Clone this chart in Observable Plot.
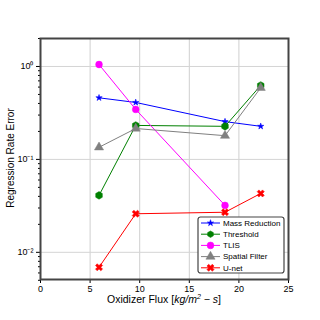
<!DOCTYPE html>
<html><head><meta charset="utf-8">
<script src="https://cdn.jsdelivr.net/npm/d3@7"></script>
<script src="https://cdn.jsdelivr.net/npm/@observablehq/plot@0.6"></script>
<style>
body{margin:0;background:#fff;font-family:"Liberation Sans",Arial,sans-serif}
#wrap{position:relative;width:320px;height:320px}
#legend{position:absolute;left:197px;top:216px}
</style>
</head><body><div id="wrap"></div>
<script>
const flux = [5.9, 9.6, 18.6, 22.2];
const massReduction = [0.46, 0.41, 0.255, 0.227];
const threshold = [0.041, 0.232, 0.227, 0.625];
const tlis = [1.05, 0.345, 0.032];
const spatialFilter = [0.135, 0.215, 0.18, 0.59];
const unet = [0.0069, 0.026, 0.027, 0.043];
const seriesNames = ["Mass Reduction", "Threshold", "TLIS", "Spatial Filter", "U-net"];
const seriesColors = ["#0000ff", "#008000", "#ff00ff", "#808080", "#ff0000"];
const xTicks = [0, 5, 10, 15, 20, 25];
const yTicks = [0.01, 0.1, 1];
const yTickLabels = ["10\u207B\u00B2", "10\u207B\u00B9", "10\u2070"];

const xSymbol = {
  draw(ctx, size) {
    const r = Math.sqrt(size / Math.PI);
    const e = r * 1.15, a = r * 0.38;
    const pts = [[a,e],[a,a],[e,a],[e,-a],[a,-a],[a,-e],[-a,-e],[-a,-a],[-e,-a],[-e,a],[-a,a],[-a,e]];
    const c = Math.SQRT1_2;
    pts.forEach(([x,y],i) => {
      const X = (x - y) * c, Y = (x + y) * c;
      i ? ctx.lineTo(X, Y) : ctx.moveTo(X, Y);
    });
    ctx.closePath();
  }
};
const seriesSymbols = ["star", "hexagon", "circle", "triangle", xSymbol];
const seriesR = [2.0, 3.3, 3.4, 3.4, 3.3];
const seriesValues = [massReduction, threshold, tlis, spatialFilter, unet];

const rows = [];
seriesValues.forEach((vals, s) => vals.forEach((v, i) => rows.push({series: seriesNames[s], s, x: flux[i], y: v})));

const marks = [
  Plot.gridX(xTicks.slice(1, -1), {stroke: "#cfcfcf", strokeOpacity: 1, strokeWidth: 1}),
  Plot.gridY(yTicks, {stroke: "#d4d4d4", strokeOpacity: 1, strokeWidth: 1}),
];
seriesNames.forEach((name, s) => {
  const d = rows.filter(r => r.s === s);
  marks.push(Plot.line(d, {x: "x", y: "y", stroke: seriesColors[s], strokeWidth: 1}));
  marks.push(Plot.dot(d, {x: "x", y: "y", fill: seriesColors[s], stroke: seriesColors[s], strokeWidth: 0.5, symbol: () => seriesSymbols[s], r: seriesR[s]}));
});
const minor = [];
for (const dec of [0.001, 0.01, 0.1, 1]) for (let k = 2; k <= 9; k++) { const v = k * dec; if (v >= 0.005 && v <= 2) minor.push(v); }
marks.push(
  Plot.axisX({ticks: xTicks, tickSize: 4, tickPadding: 2, label: null, fontSize: 9}),
  Plot.axisY({ticks: minor, tickSize: 2, tickFormat: () => "", label: null}),
  Plot.axisY({ticks: yTicks, tickSize: 4, tickPadding: 3, tickFormat: (d, i) => yTickLabels[yTicks.indexOf(d)], label: null, fontSize: 9}),
  Plot.frame({stroke: "#444", strokeWidth: 2})
);

const chart = Plot.plot({
  width: 320, height: 320,
  marginLeft: 40, marginRight: 32, marginTop: 38, marginBottom: 41,
  style: {fontFamily: "Liberation Sans, Arial, sans-serif", fontSize: "9px", color: "#000", background: "#fff"},
  x: {domain: [0, 25]},
  y: {type: "log", domain: [0.0051, 2.0]},
  symbol: {type: "identity"},
  marks
});
const svg = d3.select(chart);
svg.append("text").attr("transform", "translate(11,158) rotate(-90)").attr("text-anchor", "middle")
  .attr("dominant-baseline", "middle").attr("font-size", 10).attr("fill", "#000").text("Regression Rate Error");
const xl = svg.append("text").attr("x", 164).attr("y", 303).attr("text-anchor", "middle").attr("font-size", 10.5).attr("fill", "#000");
xl.append("tspan").text("Oxidizer Flux [");
xl.append("tspan").attr("font-style", "italic").text("kg/m");
xl.append("tspan").attr("font-style", "italic").attr("font-size", 7).attr("dy", -4).text("2");
xl.append("tspan").attr("dy", 4).text(" \u2212 ");
xl.append("tspan").attr("font-style", "italic").text("s");
xl.append("tspan").text("]");
document.getElementById("wrap").appendChild(chart);

// legend
const lg = d3.select("#wrap").append("svg").attr("id", "legend").attr("width", 90).attr("height", 60);
lg.append("rect").attr("x", 1).attr("y", 1).attr("width", 86).attr("height", 56).attr("rx", 2.5)
  .attr("fill", "#fff").attr("stroke", "#444").attr("stroke-width", 1.2);
const symGen = (s, r) => {
  const sym = seriesSymbols[s];
  const map = {star: d3.symbolStar, circle: d3.symbolCircle, triangle: d3.symbolTriangle};
  if (typeof sym === "object") return d3.symbol(sym, Math.PI * r * r)();
  if (sym === "hexagon") {
    const pts = d3.range(6).map(i => [r * Math.sin(i * Math.PI / 3), -r * Math.cos(i * Math.PI / 3)]);
    return "M" + pts.join("L") + "Z";
  }
  return d3.symbol(map[sym], Math.PI * r * r)();
};
seriesNames.forEach((name, s) => {
  const y = 7 + s * 11.2;
  const g = lg.append("g").attr("transform", `translate(0,${y})`);
  g.append("line").attr("x1", 4).attr("x2", 23).attr("y1", 0).attr("y2", 0).attr("stroke", seriesColors[s]).attr("stroke-width", 1);
  g.append("path").attr("d", symGen(s, seriesR[s])).attr("transform", "translate(13.5,0)").attr("fill", seriesColors[s]).attr("stroke", seriesColors[s]).attr("stroke-width", 0.5);
  g.append("text").attr("x", 26).attr("y", 0).attr("dy", "0.35em").attr("font-size", 8).attr("fill", "#000").text(name);
});
</script>
</body></html>
